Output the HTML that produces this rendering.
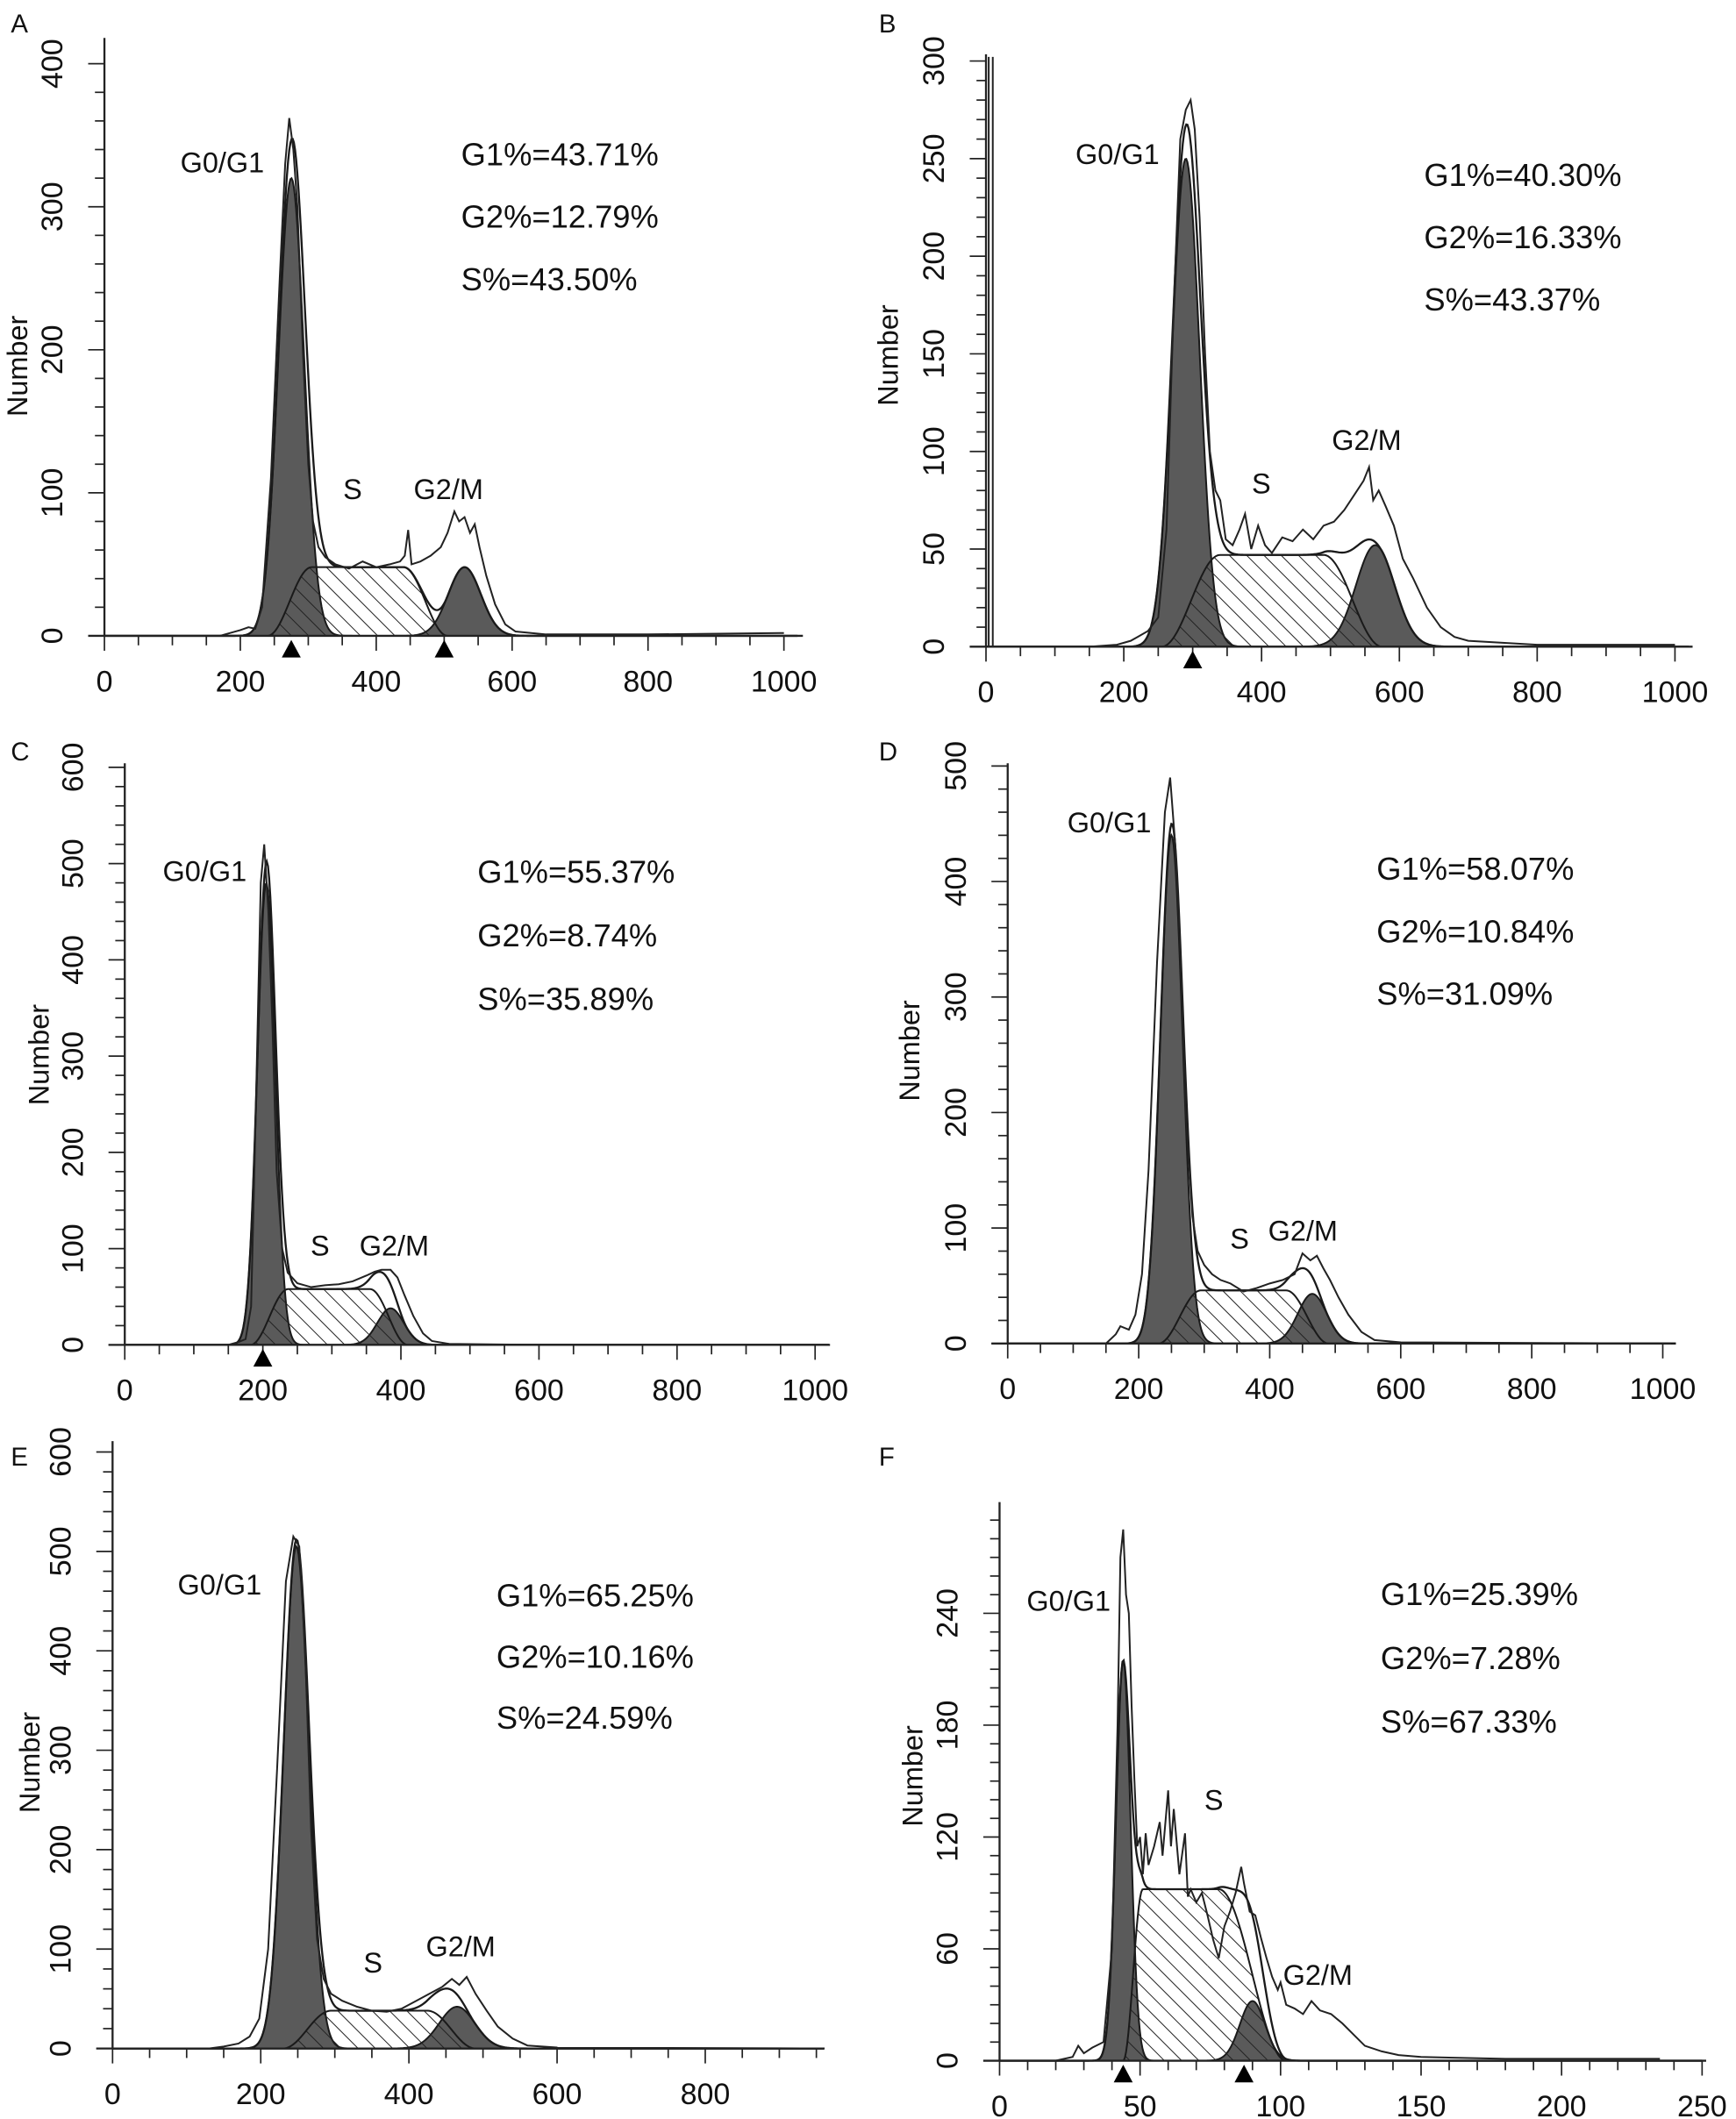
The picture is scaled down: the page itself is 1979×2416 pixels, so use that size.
<!DOCTYPE html>
<html><head><meta charset="utf-8"><style>
html,body{margin:0;padding:0;background:#fff;}
svg{display:block;}
text{font-family:"Liberation Sans",Arial,sans-serif;fill:#111;}
</style></head><body>
<svg id="fig" xmlns="http://www.w3.org/2000/svg" width="1979" height="2416" viewBox="0 0 1280 1563" preserveAspectRatio="none">
<defs>
<pattern id="hatch" patternUnits="userSpaceOnUse" width="9" height="9" patternTransform="rotate(-45)">
<line x1="0" y1="0" x2="0" y2="9" stroke="#222" stroke-width="1.3"/>
</pattern>
</defs>
</svg>
<script>
// ---------- data ----------
// Gaussian components: [mean, sd, peak]; S: [start, end, height, fall width, rise width]
const g1A=[275,19,320], g2A=[530,24,48], sA=[240,505,48,65,65];
const g1B=[290,20,250], g2B=[565,28,52], sB=[255,575,47,85,85];
const g1C=[205,13,480], g2C=[385,19,38], sC=[182,410,58,55,55];
const g1D=[250,17,440], g2D=[465,22,43], sD=[230,490,46,65,65];
const g1E=[248,17,505], g2E=[465,24,42], sE=[230,490,38,65,65];
const g1F=[44,2.6,215], g2F=[90,4.5,32], sF=[44,102,92,24,7];
// raw histogram points [x,y]
const rawA=[[170,0],[185,2],[200,4],[212,6],[222,5],[232,20],[245,110],[258,250],[266,330],[272,362],[278,340],[284,300],[292,200],[300,120],[307,80],[315,62],[325,55],[340,50],[360,47],[380,52],[400,48],[420,50],[435,52],[442,56],[447,74],[452,50],[465,52],[480,56],[495,62],[505,72],[515,87],[522,80],[530,83],[538,72],[545,78],[552,62],[562,42],[575,22],[590,8],[605,3],[650,1],[700,1],[800,1],[1000,2]];
const rawB=[[150,0],[190,1],[210,3],[220,5],[235,8],[250,15],[262,60],[272,170],[282,260],[290,275],[297,280],[303,265],[310,220],[318,150],[325,100],[333,80],[340,75],[348,55],[358,52],[368,60],[376,68],[385,50],[395,62],[405,52],[415,48],[430,56],[445,54],[460,60],[475,55],[490,62],[505,64],[520,70],[535,78],[548,85],[556,92],[562,75],[570,80],[580,72],[592,62],[605,45],[620,35],[640,20],[660,10],[680,5],[700,3],[800,1],[1000,1]];
const rawC=[[150,0],[165,3],[175,6],[183,40],[190,250],[197,480],[202,520],[208,450],[214,330],[220,180],[228,100],[236,75],[250,64],[270,60],[290,62],[310,63],[330,66],[350,72],[362,76],[372,78],[385,78],[395,70],[405,52],[418,30],[432,12],[445,4],[470,1],[600,0],[1000,0]];
const rawD=[[150,0],[165,8],[172,15],[185,12],[195,25],[205,60],[215,150],[228,330],[240,460],[248,490],[256,430],[264,330],[272,200],[282,110],[290,80],[300,68],[312,60],[325,55],[340,52],[360,45],[380,48],[400,52],[420,55],[438,60],[450,78],[462,72],[472,76],[482,65],[492,55],[505,40],[520,25],[540,10],[560,3],[600,1],[1000,0]];
const rawE=[[130,0],[150,2],[170,5],[185,12],[198,30],[210,100],[222,280],[234,470],[244,515],[252,505],[260,400],[268,220],[276,110],[285,70],[295,55],[310,48],[330,42],[350,38],[370,37],[390,40],[410,48],[430,56],[445,62],[458,70],[468,64],[478,72],[490,55],[505,38],[520,22],[540,10],[560,3],[600,1],[960,0]];
const rawF=[[20,0],[26,2],[28,8],[30,4],[33,7],[37,10],[40,60],[42,180],[43,270],[44,285],[45,250],[46,240],[47,190],[48,150],[49,115],[50,120],[51,100],[52,122],[53,105],[55,115],[57,128],[58,110],[60,145],[61,115],[62,135],[64,100],[66,122],[67,88],[68,92],[70,85],[72,90],[74,78],[76,65],[78,55],[80,72],[82,80],[84,90],[86,104],[87,95],[89,80],[91,78],[93,66],[95,55],[97,45],[99,38],[100,42],[102,30],[105,28],[108,25],[111,32],[114,27],[118,25],[122,20],[126,14],[130,8],[136,5],[142,3],[150,2],[180,1],[235,1]];
// tick labels
const xTicksA=[0,200,400,600,800,1000], yTicksA=[0,100,200,300,400];
const xTicksB=[0,200,400,600,800,1000], yTicksB=[0,50,100,150,200,250,300];
const xTicksC=[0,200,400,600,800,1000], yTicksC=[0,100,200,300,400,500,600];
const xTicksD=[0,200,400,600,800,1000], yTicksD=[0,100,200,300,400,500];
const xTicksE=[0,200,400,600,800], yTicksE=[0,100,200,300,400,500,600];
const xTicksF=[0,50,100,150,200,250], yTicksF=[0,60,120,180,240];
const statsA=["G1%=43.71%","G2%=12.79%","S%=43.50%"];
const statsB=["G1%=40.30%","G2%=16.33%","S%=43.37%"];
const statsC=["G1%=55.37%","G2%=8.74%","S%=35.89%"];
const statsD=["G1%=58.07%","G2%=10.84%","S%=31.09%"];
const statsE=["G1%=65.25%","G2%=10.16%","S%=24.59%"];
const statsF=["G1%=25.39%","G2%=7.28%","S%=67.33%"];
const markersA=[275,500], markersB=[300], markersC=[200], markersD=[], markersE=[], markersF=[44,87];

// ---------- layout ----------
const panels=[
 {id:'a',letter:'A',g1:g1A,g2:g2A,s:sA,raw:rawA,xt:xTicksA,yt:yTicksA,st:statsA,mk:markersA,
  x0:77,x1:578,xv1:1000,y0:469,y1:47,yv1:400,top:28,right:592,xmin:50,ymin:20,xmax:1020,
  L:[8,18],num:[20,270],g01:[133,127],stp:[340,122],sdy:46,sl:[253,368],gl:[305,368],spike:false},
 {id:'b',letter:'B',g1:g1B,g2:g2B,s:sB,raw:rawB,xt:xTicksB,yt:yTicksB,st:statsB,mk:markersB,
  x0:727,x1:1235,xv1:1000,y0:477,y1:45,yv1:300,top:40,right:1248,xmin:50,ymin:10,xmax:1020,
  L:[648,18],num:[662,262],g01:[793,121],stp:[1050,137],sdy:46,sl:[923,364],gl:[982,332],spike:true},
 {id:'c',letter:'C',g1:g1C,g2:g2C,s:sC,raw:rawC,xt:xTicksC,yt:yTicksC,st:statsC,mk:markersC,
  x0:92,x1:601,xv1:1000,y0:992,y1:566,yv1:600,top:563,right:612,xmin:50,ymin:20,xmax:1020,
  L:[8,555],num:[36,778],g01:[120,650],stp:[352,651],sdy:47,sl:[229,926],gl:[265,926],spike:false},
 {id:'d',letter:'D',g1:g1D,g2:g2D,s:sD,raw:rawD,xt:xTicksD,yt:yTicksD,st:statsD,mk:markersD,
  x0:743,x1:1226,xv1:1000,y0:991,y1:565,yv1:500,top:563,right:1232,xmin:50,ymin:20,xmax:1020,
  L:[648,555],num:[678,775],g01:[787,614],stp:[1015,649],sdy:46,sl:[907,921],gl:[935,915],spike:false},
 {id:'e',letter:'E',g1:g1E,g2:g2E,s:sE,raw:rawE,xt:xTicksE,yt:yTicksE,st:statsE,mk:markersE,
  x0:83,x1:520,xv1:800,y0:1511,y1:1071,yv1:600,top:1063,right:608,xmin:50,ymin:20,xmax:960,
  L:[8,1075],num:[29,1300],g01:[131,1176],stp:[366,1185],sdy:45,sl:[268,1455],gl:[314,1443],spike:false},
 {id:'f',letter:'F',g1:g1F,g2:g2F,s:sF,raw:rawF,xt:xTicksF,yt:yTicksF,st:statsF,mk:markersF,
  x0:737,x1:1255,xv1:250,y0:1520,y1:1190,yv1:240,top:1108,right:1258,xmin:10,ymin:10,xmax:250,
  L:[648,1075],num:[680,1310],g01:[757,1188],stp:[1018,1184],sdy:47,sl:[888,1335],gl:[946,1464],spike:false}
];

const NS='http://www.w3.org/2000/svg';
const svg=document.getElementById('fig');
function mk(tag,attrs,parent){const e=document.createElementNS(NS,tag);for(const k in attrs)e.setAttribute(k,attrs[k]);(parent||svg).appendChild(e);return e;}
function gauss(p,x){return p[2]*Math.exp(-0.5*Math.pow((x-p[0])/p[1],2));}
function sComp(s,x){const a=s[0],b=s[1],h=s[2],w=s[3],wr=s[4];
 if(x<=a||x>=b)return 0;
 let f=1;
 if(x<a+wr)f=0.5-0.5*Math.cos(Math.PI*(x-a)/wr);
 if(x>b-w)f=Math.min(f,0.5-0.5*Math.cos(Math.PI*(b-x)/w));
 return h*f;}

panels.forEach(p=>{
 const g=mk('g',{});
 
 
 const X=v=>p.x0+(v/p.xv1)*(p.x1-p.x0);
 const Y=v=>p.y0-(v/p.yv1)*(p.y0-p.y1);
 const ytop=p.yv1*(p.y0-p.top)/(p.y0-p.y1);
 const clip=v=>Math.min(v,ytop);
 const xs=[];const n=600;const xEnd=p.xmax;
 for(let i=0;i<=n;i++)xs.push(xEnd*i/n);
 const area=(fn)=>{let d='M'+X(0)+','+Y(0);xs.forEach(x=>{d+=' L'+X(x).toFixed(2)+','+Y(clip(fn(x))).toFixed(2);});d+=' L'+X(xEnd)+','+Y(0)+' Z';return d;};
 const line=(fn)=>{let d='';xs.forEach((x,i)=>{d+=(i?' L':'M')+X(x).toFixed(2)+','+Y(clip(fn(x))).toFixed(2);});return d;};
 let e=mk('path',{d:area(x=>sComp(p.s,x)),fill:'#fff',stroke:'none'},g);
 
 
 e=mk('path',{d:area(x=>gauss(p.g1,x)),fill:'#5a5a5a',stroke:'#1a1a1a','stroke-width':1.3},g);
 
 
 e=mk('path',{d:area(x=>gauss(p.g2,x)),fill:'#5a5a5a',stroke:'#1a1a1a','stroke-width':1.3},g);
 
 
 e=mk('path',{d:area(x=>sComp(p.s,x)),fill:'url(#hatch)',stroke:'#1a1a1a','stroke-width':1.3},g);
 
 
 e=mk('path',{d:line(x=>gauss(p.g1,x)+gauss(p.g2,x)+sComp(p.s,x)),fill:'none',stroke:'#1a1a1a','stroke-width':1.5},g);
 
 
 let d='';p.raw.forEach((pt,i)=>{d+=(i?' L':'M')+X(pt[0]).toFixed(2)+','+Y(clip(pt[1])).toFixed(2);});
 e=mk('path',{d:d,fill:'none',stroke:'#222','stroke-width':1.3},g);
 
 
 if(p.spike){
  e=mk('path',{d:'M'+(p.x0+2)+','+p.y0+' V'+(p.top+2)+' M'+(p.x0+5)+','+p.y0+' V'+(p.top+2),stroke:'#222','stroke-width':1.3,fill:'none'},g);
  
  
 }
 e=mk('line',{x1:p.x0,y1:p.top,x2:p.x0,y2:p.y0,stroke:'#222','stroke-width':1.5},g);
 
 
 e=mk('line',{x1:p.x0-12,y1:p.y0,x2:p.right,y2:p.y0,stroke:'#222','stroke-width':1.5},g);
 
 
 for(let v=0;v<=ytop+0.001;v+=p.ymin){
  const major=p.yt.some(t=>Math.abs(t-v)<1e-6);
  e=mk('line',{x1:p.x0-(major?12:7),y1:Y(v),x2:p.x0,y2:Y(v),stroke:'#222','stroke-width':1.1},g);
  
  
 }
 for(let v=0;v<=p.xmax+0.001;v+=p.xmin){
  const major=p.xt.some(t=>Math.abs(t-v)<1e-6);
  e=mk('line',{x1:X(v),y1:p.y0,x2:X(v),y2:p.y0+(major?11:7),stroke:'#222','stroke-width':1.1},g);
  
  
 }
 p.yt.forEach(v=>{
  const tx=p.x0-31,ty=Y(v);
  e=mk('text',{x:tx,y:ty,'font-size':22,'text-anchor':'middle',transform:'rotate(-90 '+tx+' '+ty+')'},g);
  e.textContent=v;
  
  
 });
 p.xt.forEach(v=>{
  e=mk('text',{x:X(v),y:p.y0+41,'font-size':22,'text-anchor':'middle'},g);
  e.textContent=v;
  
  
 });
 p.mk.forEach(v=>{
  const cx=X(v),ty=p.y0+3;
  e=mk('path',{d:'M'+cx+','+ty+' L'+(cx-7)+','+(ty+13)+' L'+(cx+7)+','+(ty+13)+' Z',fill:'#000'},g);
  
  
 });
 e=mk('text',{x:p.num[0],y:p.num[1],'font-size':21,'text-anchor':'middle',transform:'rotate(-90 '+p.num[0]+' '+p.num[1]+')'},g);
 e.textContent='Number';
 
 
 e=mk('text',{x:p.L[0],y:p.L[1]+6,'font-size':19},g);
 e.textContent=p.letter;
 
 
 e=mk('text',{x:p.g01[0],y:p.g01[1],'font-size':21},g);
 e.textContent='G0/G1';
 
 
 e=mk('text',{x:p.sl[0],y:p.sl[1],'font-size':21},g);
 e.textContent='S';
 
 
 e=mk('text',{x:p.gl[0],y:p.gl[1],'font-size':21},g);
 e.textContent='G2/M';
 
 
 p.st.forEach((s,i)=>{
  e=mk('text',{x:p.stp[0],y:p.stp[1]+i*p.sdy,'font-size':23.5},g);
  e.textContent=s;
  
  
 });
});
</script>
</body></html>
